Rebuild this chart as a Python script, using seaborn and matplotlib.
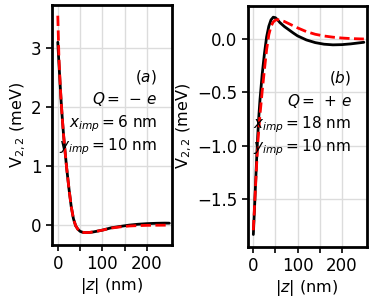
import matplotlib
matplotlib.use("Agg")
import matplotlib.pyplot as plt
import seaborn as sns
import pandas as pd

# |z| sample points (nm)
z = [0, 2.5, 5, 7.5, 10, 12.5, 15, 20, 25, 30, 35, 40, 45, 50, 55, 60, 70, 80,
     90, 100, 120, 140, 160, 180, 200, 220, 240, 250]

# panel (a): Q = -e, x_imp = 6 nm, y_imp = 10 nm
v_a_full = [3.1, 2.75, 2.42, 2.1, 1.82, 1.57, 1.35, 0.96, 0.62, 0.32, 0.11, -0.01,
            -0.07, -0.105, -0.12, -0.127, -0.125, -0.115, -0.1, -0.085, -0.045,
            -0.022, 0.0, 0.015, 0.025, 0.031, 0.034, 0.033]
v_a_appr = [3.55, 2.85, 2.45, 2.1, 1.82, 1.57, 1.35, 0.96, 0.62, 0.32, 0.11, -0.01,
            -0.07, -0.105, -0.12, -0.127, -0.125, -0.115, -0.1, -0.085, -0.05,
            -0.03, -0.015, -0.008, -0.004, -0.002, -0.001, 0.0]

# panel (b): Q = +e, x_imp = 18 nm, y_imp = 10 nm
v_b_full = [-1.83, -1.6, -1.36, -1.12, -0.9, -0.72, -0.57, -0.33, -0.14, 0.02, 0.12,
            0.18, 0.205, 0.2, 0.18, 0.155, 0.118, 0.088, 0.058, 0.03, -0.008,
            -0.033, -0.048, -0.054, -0.052, -0.045, -0.035, -0.03]
v_b_appr = [-1.79, -1.58, -1.38, -1.17, -0.98, -0.84, -0.71, -0.49, -0.29, -0.1, 0.04,
            0.12, 0.16, 0.178, 0.182, 0.178, 0.165, 0.145, 0.125, 0.105, 0.07,
            0.045, 0.029, 0.018, 0.01, 0.005, 0.002, 0.001]

x_ticks = [0, 50, 100, 150, 200]
x_labels = ["0", "", "100", "", "200"]

sns.set_theme(style="whitegrid", rc={
    "axes.edgecolor": "black",
    "axes.linewidth": 2.0,
    "grid.color": "#dcdcdc",
    "grid.linewidth": 1.0,
    "xtick.bottom": True,
    "ytick.left": True,
    "xtick.direction": "out",
    "ytick.direction": "out",
    "xtick.major.size": 4,
    "ytick.major.size": 4,
    "xtick.major.width": 1.2,
    "ytick.major.width": 1.2,
    "xtick.color": "black",
    "ytick.color": "black",
    "axes.labelcolor": "black",
    "text.color": "black",
    "font.size": 11,
    "axes.labelsize": 11.5,
    "xtick.labelsize": 12,
    "ytick.labelsize": 12,
})
plt.rcParams["font.family"] = ["DejaVu Sans"]

fig = plt.figure(figsize=(3.74, 2.99), dpi=100)
ax1 = fig.add_axes([0.139, 0.181, 0.321, 0.803])
ax2 = fig.add_axes([0.662, 0.175, 0.318, 0.805])

panels = [
    (ax1, v_a_full, v_a_appr, "(a)", r"Q=\,-\,e", "6", (-0.335, 3.735)),
    (ax2, v_b_full, v_b_appr, "(b)", r"Q=\,+\,e", "18", (-1.944, 0.31)),
]

for ax, full, appr, tag, charge, ximp, ylim in panels:
    df = pd.DataFrame({"z": z, "full": full, "appr": appr})
    sns.lineplot(data=df, x="z", y="full", ax=ax, color="black", lw=2)
    sns.lineplot(data=df, x="z", y="appr", ax=ax, color="red", lw=2, linestyle="--")
    ax.set_xlim(-13, 256)
    ax.set_ylim(*ylim)
    ax.set_xticks(x_ticks)
    ax.set_xticklabels(x_labels)
    ax.set_xlabel("$|z|$ (nm)", labelpad=2)
    ax.set_ylabel("V$_{2,2}$ (meV)", labelpad=2)
    ax.grid(True)
    for s in ax.spines.values():
        s.set_visible(True)
        s.set_linewidth(2)
    ys = [0.70, 0.606, 0.506, 0.41]
    texts = [f"${tag}$", f"${charge}$", f"$x_{{imp}}={ximp}$ nm", "$y_{imp}=10$ nm"]
    for yy, t in zip(ys, texts):
        ax.text(0.875, yy, t, transform=ax.transAxes, ha="right", va="center",
                fontsize=11)

ax2.set_yticks([-1.5, -1.0, -0.5, 0.0])

fig.savefig("out.png", dpi=100)
